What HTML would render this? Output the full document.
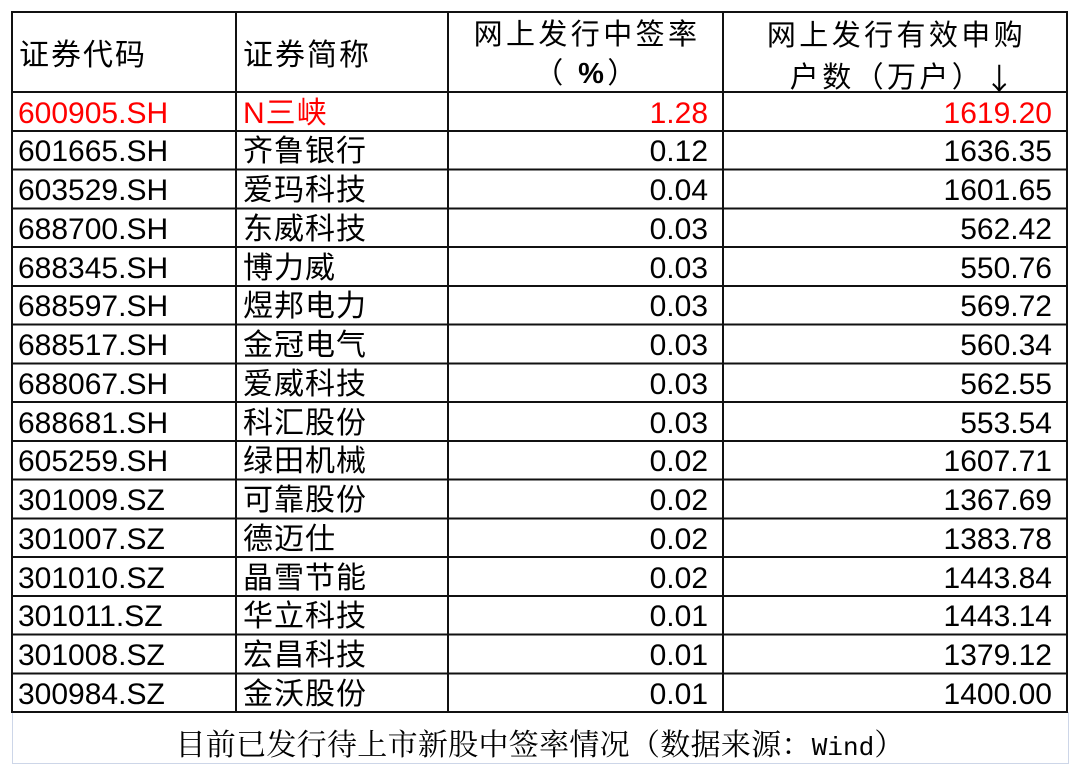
<!DOCTYPE html>
<html>
<head>
<meta charset="utf-8">
<style>
  html,body{margin:0;padding:0;background:#fff;}
  body{width:1080px;height:777px;position:relative;overflow:hidden;
       font-family:"Liberation Sans","Noto Sans CJK SC",sans-serif;color:#000;}
  .c{position:absolute;white-space:nowrap;}
  .l{text-align:left;}
  .r{text-align:right;}
  .ctr{text-align:center;}
  .red{color:#ff0000;}
  .h1{font-size:30px;letter-spacing:2px;height:80px;line-height:80px;}
  .h2{font-size:29px;letter-spacing:3.4px;height:38px;line-height:38px;}
  .d{font-size:30px;height:38.75px;line-height:38.75px;}
  .zh{letter-spacing:1px;}
  .arr{font-family:"Noto Sans CJK SC",sans-serif;font-size:30px;position:relative;top:3px;letter-spacing:0;}
  .cap{position:absolute;left:12px;width:1056px;top:726px;height:40px;line-height:40px;text-align:center;
       font-family:"Liberation Serif","Noto Serif CJK SC",serif;font-size:30px;letter-spacing:0.3px;white-space:nowrap;}
  .cap .w{font-family:"Liberation Mono","Noto Serif CJK SC",monospace;font-size:26px;letter-spacing:0;}
</style>
</head>
<body>

<!-- caption box -->
<div style="position:absolute;left:12px;top:712px;width:1055px;height:51px;border:1px solid #cdd6e8;border-top:none;"></div>

<!-- grid -->
<svg width="1080" height="777" style="position:absolute;left:0;top:0;" xmlns="http://www.w3.org/2000/svg">
  <g stroke="#111" stroke-width="2" shape-rendering="crispEdges">
    <line x1="12" y1="12" x2="1068" y2="12"/>
    <line x1="12" y1="92" x2="1068" y2="92"/>
    <line x1="12" y1="130.75" x2="1068" y2="130.75"/>
    <line x1="12" y1="169.5" x2="1068" y2="169.5"/>
    <line x1="12" y1="208.25" x2="1068" y2="208.25"/>
    <line x1="12" y1="247" x2="1068" y2="247"/>
    <line x1="12" y1="285.75" x2="1068" y2="285.75"/>
    <line x1="12" y1="324.5" x2="1068" y2="324.5"/>
    <line x1="12" y1="363.25" x2="1068" y2="363.25"/>
    <line x1="12" y1="402" x2="1068" y2="402"/>
    <line x1="12" y1="440.75" x2="1068" y2="440.75"/>
    <line x1="12" y1="479.5" x2="1068" y2="479.5"/>
    <line x1="12" y1="518.25" x2="1068" y2="518.25"/>
    <line x1="12" y1="557" x2="1068" y2="557"/>
    <line x1="12" y1="595.75" x2="1068" y2="595.75"/>
    <line x1="12" y1="634.5" x2="1068" y2="634.5"/>
    <line x1="12" y1="673.25" x2="1068" y2="673.25"/>
    <line x1="12" y1="712" x2="1068" y2="712"/>
    <line x1="12" y1="11" x2="12" y2="713"/>
    <line x1="236" y1="11" x2="236" y2="713"/>
    <line x1="448" y1="11" x2="448" y2="713"/>
    <line x1="723" y1="11" x2="723" y2="713"/>
    <line x1="1067" y1="11" x2="1067" y2="713"/>
  </g>
</svg>

<!-- header -->
<div class="c l h1" style="left:19px;top:16px;">证券代码</div>
<div class="c l h1" style="left:243px;top:16px;">证券简称</div>
<div class="c ctr h2" style="left:448px;width:275px;top:16px;padding-left:3px;box-sizing:border-box;">网上发行中签率</div>
<div class="c ctr h2" style="left:448px;width:275px;top:55px;padding-left:3px;box-sizing:border-box;">（ <b style="font-family:'Liberation Sans',sans-serif;">%</b>）</div>
<div class="c ctr h2" style="left:723px;width:344px;top:17px;padding-left:3px;box-sizing:border-box;">网上发行有效申购</div>
<div class="c ctr h2" style="left:723px;width:344px;top:55px;padding-left:14px;box-sizing:border-box;">户数（万户）<span class="arr">↓</span></div>

<!-- rows -->
<div class="c l d red" style="left:18px;top:94.5px;">600905.SH</div>
<div class="c l d zh red" style="left:243px;top:94.5px;">N三峡</div>
<div class="c r d red" style="left:448px;width:260px;top:94.5px;">1.28</div>
<div class="c r d red" style="left:723px;width:329px;top:94.5px;">1619.20</div>

<div class="c l d" style="left:18px;top:133.25px;">601665.SH</div>
<div class="c l d zh" style="left:243px;top:133.25px;">齐鲁银行</div>
<div class="c r d" style="left:448px;width:260px;top:133.25px;">0.12</div>
<div class="c r d" style="left:723px;width:329px;top:133.25px;">1636.35</div>

<div class="c l d" style="left:18px;top:172px;">603529.SH</div>
<div class="c l d zh" style="left:243px;top:172px;">爱玛科技</div>
<div class="c r d" style="left:448px;width:260px;top:172px;">0.04</div>
<div class="c r d" style="left:723px;width:329px;top:172px;">1601.65</div>

<div class="c l d" style="left:18px;top:210.75px;">688700.SH</div>
<div class="c l d zh" style="left:243px;top:210.75px;">东威科技</div>
<div class="c r d" style="left:448px;width:260px;top:210.75px;">0.03</div>
<div class="c r d" style="left:723px;width:329px;top:210.75px;">562.42</div>

<div class="c l d" style="left:18px;top:249.5px;">688345.SH</div>
<div class="c l d zh" style="left:243px;top:249.5px;">博力威</div>
<div class="c r d" style="left:448px;width:260px;top:249.5px;">0.03</div>
<div class="c r d" style="left:723px;width:329px;top:249.5px;">550.76</div>

<div class="c l d" style="left:18px;top:288.25px;">688597.SH</div>
<div class="c l d zh" style="left:243px;top:288.25px;">煜邦电力</div>
<div class="c r d" style="left:448px;width:260px;top:288.25px;">0.03</div>
<div class="c r d" style="left:723px;width:329px;top:288.25px;">569.72</div>

<div class="c l d" style="left:18px;top:327px;">688517.SH</div>
<div class="c l d zh" style="left:243px;top:327px;">金冠电气</div>
<div class="c r d" style="left:448px;width:260px;top:327px;">0.03</div>
<div class="c r d" style="left:723px;width:329px;top:327px;">560.34</div>

<div class="c l d" style="left:18px;top:365.75px;">688067.SH</div>
<div class="c l d zh" style="left:243px;top:365.75px;">爱威科技</div>
<div class="c r d" style="left:448px;width:260px;top:365.75px;">0.03</div>
<div class="c r d" style="left:723px;width:329px;top:365.75px;">562.55</div>

<div class="c l d" style="left:18px;top:404.5px;">688681.SH</div>
<div class="c l d zh" style="left:243px;top:404.5px;">科汇股份</div>
<div class="c r d" style="left:448px;width:260px;top:404.5px;">0.03</div>
<div class="c r d" style="left:723px;width:329px;top:404.5px;">553.54</div>

<div class="c l d" style="left:18px;top:443.25px;">605259.SH</div>
<div class="c l d zh" style="left:243px;top:443.25px;">绿田机械</div>
<div class="c r d" style="left:448px;width:260px;top:443.25px;">0.02</div>
<div class="c r d" style="left:723px;width:329px;top:443.25px;">1607.71</div>

<div class="c l d" style="left:18px;top:482px;">301009.SZ</div>
<div class="c l d zh" style="left:243px;top:482px;">可靠股份</div>
<div class="c r d" style="left:448px;width:260px;top:482px;">0.02</div>
<div class="c r d" style="left:723px;width:329px;top:482px;">1367.69</div>

<div class="c l d" style="left:18px;top:520.75px;">301007.SZ</div>
<div class="c l d zh" style="left:243px;top:520.75px;">德迈仕</div>
<div class="c r d" style="left:448px;width:260px;top:520.75px;">0.02</div>
<div class="c r d" style="left:723px;width:329px;top:520.75px;">1383.78</div>

<div class="c l d" style="left:18px;top:559.5px;">301010.SZ</div>
<div class="c l d zh" style="left:243px;top:559.5px;">晶雪节能</div>
<div class="c r d" style="left:448px;width:260px;top:559.5px;">0.02</div>
<div class="c r d" style="left:723px;width:329px;top:559.5px;">1443.84</div>

<div class="c l d" style="left:18px;top:598.25px;">301011.SZ</div>
<div class="c l d zh" style="left:243px;top:598.25px;">华立科技</div>
<div class="c r d" style="left:448px;width:260px;top:598.25px;">0.01</div>
<div class="c r d" style="left:723px;width:329px;top:598.25px;">1443.14</div>

<div class="c l d" style="left:18px;top:637px;">301008.SZ</div>
<div class="c l d zh" style="left:243px;top:637px;">宏昌科技</div>
<div class="c r d" style="left:448px;width:260px;top:637px;">0.01</div>
<div class="c r d" style="left:723px;width:329px;top:637px;">1379.12</div>

<div class="c l d" style="left:18px;top:675.75px;">300984.SZ</div>
<div class="c l d zh" style="left:243px;top:675.75px;">金沃股份</div>
<div class="c r d" style="left:448px;width:260px;top:675.75px;">0.01</div>
<div class="c r d" style="left:723px;width:329px;top:675.75px;">1400.00</div>

<!-- caption -->
<div class="cap">目前已发行待上市新股中签率情况（数据来源：<span class="w">Wind</span>）</div>

</body>
</html>
